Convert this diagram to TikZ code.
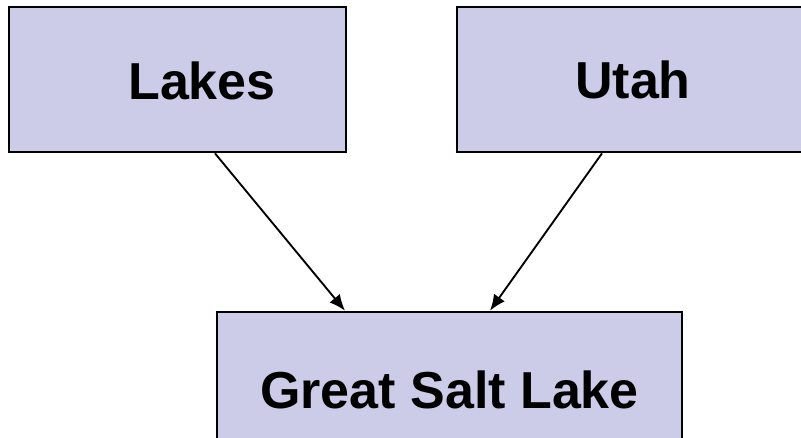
\documentclass[tikz,border=0pt]{standalone}
\usepackage{fontspec}
\setmainfont{Liberation Sans}
\usetikzlibrary{arrows.meta}
\definecolor{lavender}{RGB}{204,204,232}

\begin{document}
\begin{tikzpicture}[x=0.75pt, y=-0.75pt, box/.style = {shape=rectangle, draw, line width=2pt, fill=lavender, inner sep=0pt}, word/.style = {font=\fontsize{39}{47}\selectfont\bfseries, inner sep=0pt}, link/.style = {draw, line width=1.4pt, -{Latex[length=12pt, width=10pt]}}]
	\clip (0,0) rectangle (801,437);
	\node[box, minimum width=252.75pt, minimum height=108.75pt] (lakes) at (177.5,79.5) {};
	\node[word] (lakestext) at (202,81) {Lakes};
	\node[box, word, minimum width=264pt, minimum height=108.75pt] (utah) at (633,79.5) {Utah};
	\node[box, word, minimum width=348.75pt, minimum height=116.25pt] (lake) at (449.5,389.5) {Great Salt Lake};
	\draw[link] ([xshift=28.1pt]lakes.south) -- ([xshift=-78.4pt]lake.north);
	\draw[link] ([xshift=-23.25pt]utah.south) -- ([xshift=30.4pt]lake.north);
\end{tikzpicture}
\end{document}
